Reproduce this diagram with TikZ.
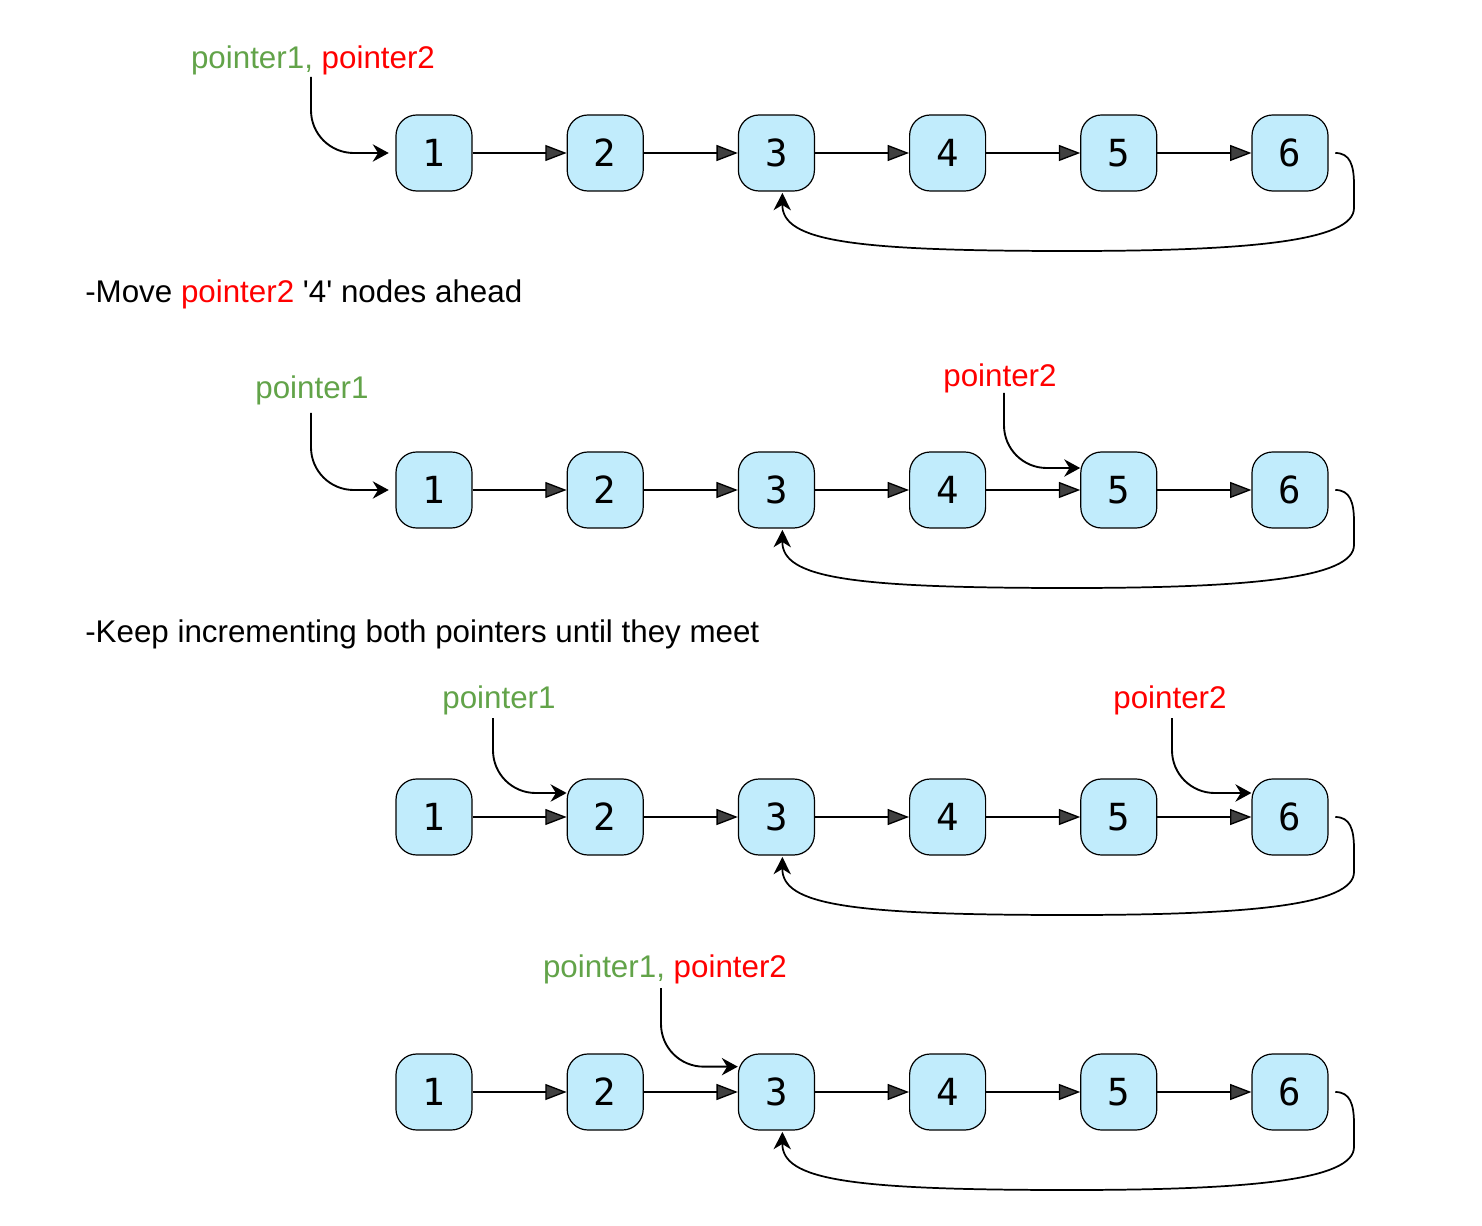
\documentclass[tikz,border=0pt]{standalone}
\usepackage{fontspec}
\setmainfont{Liberation Sans}
\newfontfamily\digitfont{DejaVu Sans Mono}
\usetikzlibrary{arrows.meta}
\definecolor{nodefill}{RGB}{193,236,252}
\definecolor{ptrgreen}{RGB}{98,163,73}
\definecolor{ptrred}{RGB}{255,0,0}
\definecolor{headgray}{RGB}{64,64,64}
\begin{document}
\begin{tikzpicture}[x=0.75pt,y=-0.75pt,
  listnode/.style={draw=black, line width=0.9pt, fill=nodefill, rounded corners=15.5pt,
    minimum width=57pt, minimum height=57pt, inner sep=0pt,
    font=\digitfont\fontsize{28}{28}\selectfont},
  link/.style={line width=1pt, -{Triangle[length=16pt,width=12pt,fill=headgray]}},
  ptr/.style={line width=1.4pt, rounded corners=32pt, -{Stealth[length=12pt,width=13pt,inset=4pt]}},
  loopback/.style={line width=1.3pt, -{Stealth[length=13pt,width=13pt,inset=4pt]}},
  lbl/.style={inner sep=0pt, font=\fontsize{23.5}{27}\selectfont},
  caption/.style={inner sep=0pt, anchor=west, font=\fontsize{23.5}{27}\selectfont}
]
\useasboundingbox (0,0) rectangle (1482,1226);

\foreach \r/\y in {1/153,2/490,3/817,4/1092}{
  \foreach \i in {1,...,6}{
    \node[listnode] (n\r\i) at ({434+171.2*(\i-1)},\y) {\i};
  }
  \foreach \i/\j in {1/2,2/3,3/4,4/5,5/6}{
    \draw[link] (n\r\i.east) -- (n\r\j.west);
  }
  \draw[loopback] ([xshift=5pt]n\r6.east) .. controls (1350,\y) and (1354,\y+12) .. (1354,\y+32)
    -- (1354,\y+55) .. controls (1354,\y+88) and (1250,\y+98) .. (1070,\y+98)
    .. controls (850,\y+98) and (782,\y+88) .. ([xshift=4.5pt,yshift=-1pt]n\r3.south);
}

% row 1
\node[lbl] (l1) at (313,60) {\textcolor{ptrgreen}{pointer1,} \textcolor{ptrred}{pointer2}};
\coordinate (s1) at (311,77);
\draw[ptr] (s1) |- ([xshift=-5pt]n11.west);

% caption 1
\node[caption] (c1) at (85,294) {-Move \textcolor{ptrred}{pointer2} \textquotesingle 4\textquotesingle\ nodes ahead};

% row 2
\node[lbl] (l2a) at (312,390) {\textcolor{ptrgreen}{pointer1}};
\coordinate (s2a) at (311,413);
\draw[ptr] (s2a) |- ([xshift=-5pt]n21.west);
\node[lbl] (l2b) at (1000,378) {\textcolor{ptrred}{pointer2}};
\coordinate (s2b) at (1004,393);
\draw[ptr] (s2b) |- ([yshift=16.5pt]n25.west);

% caption 2
\node[caption] (c2) at (85,634) {-Keep incrementing both pointers until they meet};

% row 3
\node[lbl] (l3a) at (499,700) {\textcolor{ptrgreen}{pointer1}};
\coordinate (s3a) at (493,718);
\draw[ptr] (s3a) |- ([yshift=18pt]n32.west);
\node[lbl] (l3b) at (1170,700) {\textcolor{ptrred}{pointer2}};
\coordinate (s3b) at (1172,718);
\draw[ptr] (s3b) |- ([yshift=18pt]n36.west);

% row 4
\node[lbl] (l4) at (665,969) {\textcolor{ptrgreen}{pointer1,} \textcolor{ptrred}{pointer2}};
\coordinate (s4) at (661,988);
\draw[ptr] (s4) |- ([yshift=19pt]n43.west);
\end{tikzpicture}
\end{document}
